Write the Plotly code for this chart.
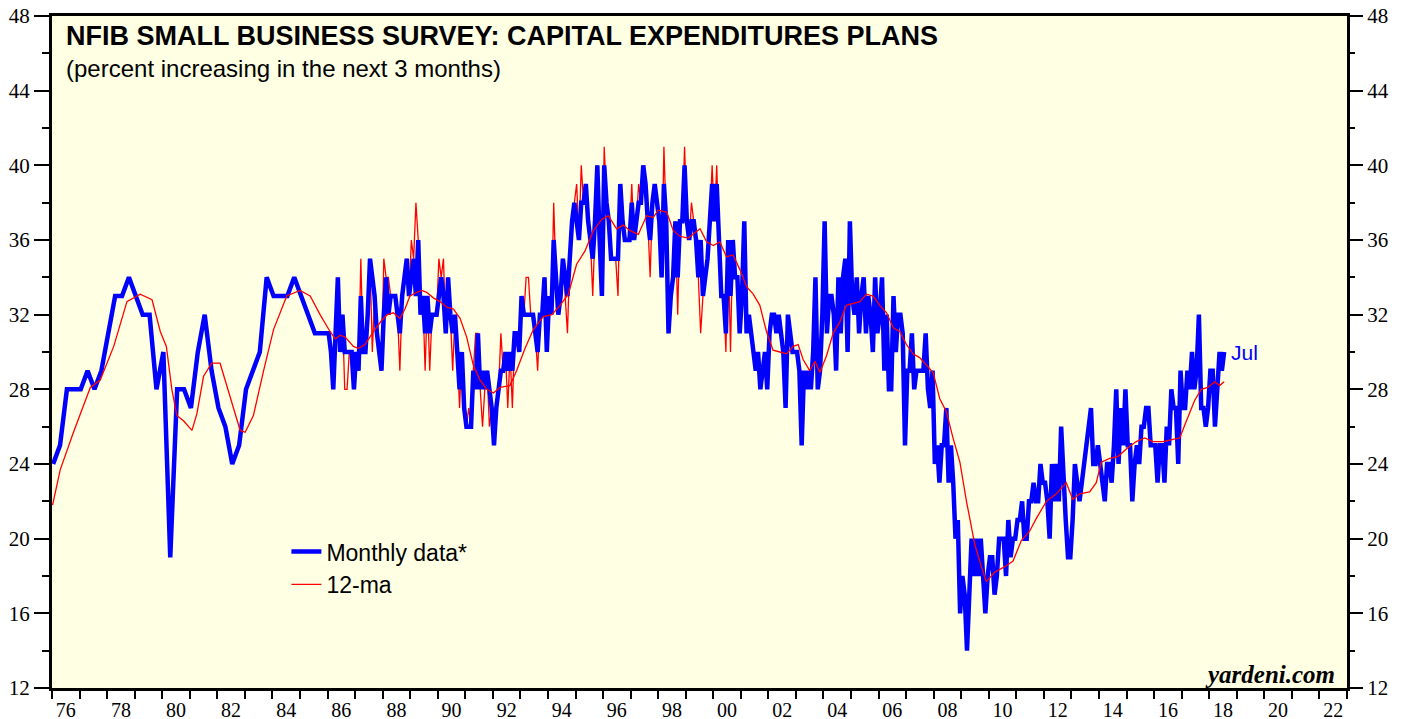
import plotly.graph_objects as go

# ---------------- data ----------------
QUARTERLY_START_YEAR = 1976
MONTHLY_START_YEAR = 1986

# Quarterly readings 1976Q1 - 1985Q4 (percent planning capital outlays)
capex_quarterly = [
    24, 25, 28, 28,
    28, 29, 28, 29,
    31, 33, 33, 34,
    33, 32, 32, 28,
    30, 19, 28, 28,
    27, 30, 32, 29,
    27, 26, 24, 25,
    28, 29, 30, 34,
    33, 33, 33, 34,
    33, 32, 31, 31,
]

# Monthly readings Jan 1986 - Jul 2018
capex_monthly = [
    31, 30, 28, 31, 34, 30, 32, 30, 30, 30, 30, 28,   # 1986
    30, 29, 33, 30, 30, 32, 35, 34, 33, 31, 30, 29,   # 1987
    32, 34, 32, 33, 33, 33, 32, 31, 33, 34, 35, 33,   # 1988
    34, 35, 33, 36, 32, 33, 31, 33, 31, 32, 32, 32,   # 1989
    33, 34, 33, 31, 34, 32, 31, 32, 30, 28, 30, 27,   # 1990
    26, 26, 26, 29, 28, 31, 28, 29, 28, 29, 28, 27,   # 1991
    25, 27, 28, 29, 29, 30, 29, 30, 29, 31, 31, 30,   # 1992
    33, 32, 32, 32, 32, 32, 31, 30, 32, 32, 34, 30,   # 1993
    33, 32, 36, 34, 32, 33, 35, 34, 33, 35, 37, 38,   # 1994
    37, 36, 38, 38, 39, 37, 36, 35, 37, 40, 36, 33,   # 1995
    40, 38, 37, 35, 35, 35, 35, 39, 37, 36, 36, 36,   # 1996
    38, 36, 37, 38, 38, 40, 39, 37, 36, 38, 39, 38,   # 1997
    37, 34, 39, 37, 31, 33, 34, 37, 34, 37, 37, 40,   # 1998
    37, 36, 37, 37, 36, 34, 36, 33, 34, 35, 37, 39,   # 1999
    37, 39, 36, 33, 33, 31, 36, 33, 36, 34, 34, 31,   # 2000
    33, 37, 31, 32, 31, 30, 29, 30, 28, 29, 30, 28,   # 2001
    31, 32, 32, 31, 32, 31, 30, 27, 32, 31, 30, 30,   # 2002
    30, 29, 25, 29, 28, 29, 28, 30, 34, 28, 29, 32,   # 2003
    37, 31, 33, 33, 32, 29, 34, 31, 34, 35, 30, 37,   # 2004
    33, 32, 34, 31, 33, 34, 31, 33, 32, 30, 34, 31,   # 2005
    32, 34, 29, 32, 28, 28, 33, 30, 32, 32, 31, 25,   # 2006
    29, 29, 31, 28, 29, 29, 29, 29, 31, 28, 27, 29,   # 2007
    24, 25, 23, 25, 25, 27, 23, 25, 23, 20, 21, 16,   # 2008
    18, 17, 14, 17, 20, 18, 20, 18, 20, 18, 16, 18,   # 2009
    19, 19, 17, 18, 20, 20, 20, 18, 21, 19, 20, 20,   # 2010
    21, 21, 22, 20, 20, 22, 22, 23, 22, 22, 24, 23,   # 2011
    23, 22, 20, 24, 22, 24, 22, 26, 23, 21, 19, 19,   # 2012
    21, 24, 23, 22, 23, 24, 25, 26, 27, 24, 24, 25,   # 2013
    24, 23, 22, 24, 24, 23, 25, 28, 24, 27, 25, 28,   # 2014
    25, 25, 22, 24, 25, 24, 26, 26, 27, 27, 25, 25,   # 2015
    25, 23, 25, 25, 23, 26, 25, 28, 27, 27, 24, 29,   # 2016
    27, 27, 29, 28, 30, 28, 29, 32, 27, 27, 26, 27,   # 2017
    29, 29, 26, 28, 30, 29, 30,                       # 2018 (Jan-Jul)
]

# Thin red monthly series visible 1986 - Sep 2000
capex_monthly_red = [
    31, 30, 28, 31, 34, 30, 32, 28, 28, 30, 30, 28,   # 1986
    30, 29, 35, 30, 30, 32, 35, 30, 33, 31, 30, 29,   # 1987
    35, 34, 34, 33, 33, 33, 32, 29, 33, 34, 35, 33,   # 1988
    36, 35, 38, 36, 32, 33, 29, 33, 29, 32, 32, 32,   # 1989
    35, 34, 35, 31, 34, 32, 29, 32, 30, 27, 30, 27,   # 1990
    26, 27, 26, 29, 31, 31, 28, 26, 28, 29, 26, 27,   # 1991
    25, 27, 28, 31, 29, 30, 27, 30, 27, 31, 31, 30,   # 1992
    33, 32, 34, 34, 32, 32, 31, 29, 32, 32, 34, 30,   # 1993
    33, 32, 38, 34, 32, 33, 35, 33, 31, 35, 37, 38,   # 1994
    39, 36, 40, 38, 39, 37, 36, 33, 37, 40, 36, 33,   # 1995
    41, 38, 37, 35, 35, 35, 33, 39, 37, 36, 36, 36,   # 1996
    39, 36, 37, 39, 38, 40, 39, 37, 34, 38, 39, 38,   # 1997
    37, 34, 41, 37, 31, 33, 34, 37, 32, 37, 37, 41,   # 1998
    37, 36, 38, 37, 36, 34, 31, 33, 34, 35, 37, 40,   # 1999
    37, 40, 36, 33, 33, 30, 36, 30, 36,               # 2000 (Jan-Sep)
]

# 12-month moving average, read at sample dates (decimal years)
ma_time = [
    1976.02, 1976.30, 1976.78, 1977.39, 1977.75, 1978.24, 1978.72, 1979.20,
    1979.63, 1979.93, 1980.15, 1980.35, 1980.53, 1980.78, 1981.08, 1981.26,
    1981.50, 1981.80, 1982.10, 1982.47, 1982.83, 1983.01, 1983.31, 1983.68,
    1984.04, 1984.52, 1985.00, 1985.37, 1985.73, 1986.09, 1986.28, 1986.46,
    1986.64, 1986.94, 1987.12, 1987.36, 1987.67, 1987.97, 1988.17, 1988.39,
    1988.63, 1988.81, 1988.99, 1989.24, 1989.42, 1989.60, 1989.84, 1990.08,
    1990.33, 1990.57, 1990.81, 1991.05, 1991.29, 1991.53, 1991.78, 1992.02,
    1992.26, 1992.62, 1992.86, 1993.17, 1993.47, 1993.83, 1994.14, 1994.44,
    1994.74, 1995.04, 1995.34, 1995.65, 1995.95, 1996.19, 1996.49, 1996.73,
    1996.98, 1997.28, 1997.58, 1997.82, 1998.00, 1998.31, 1998.55, 1998.79,
    1999.09, 1999.52, 1999.76, 2000.00, 2000.24, 2000.48, 2000.72, 2000.97,
    2001.21, 2001.45, 2001.69, 2001.93, 2002.17, 2002.42, 2002.66, 2002.90,
    2003.08, 2003.26, 2003.50, 2003.69, 2003.87, 2004.11, 2004.35, 2004.59,
    2004.83, 2005.08, 2005.32, 2005.56, 2005.80, 2006.04, 2006.29, 2006.53,
    2006.77, 2007.01, 2007.25, 2007.49, 2007.74, 2007.98, 2008.22, 2008.46,
    2008.70, 2008.95, 2009.19, 2009.49, 2009.73, 2009.91, 2010.21, 2010.58,
    2010.88, 2011.18, 2011.48, 2011.73, 2012.09, 2012.45, 2012.81, 2013.05,
    2013.30, 2013.66, 2013.90, 2014.08, 2014.39, 2014.69, 2014.99, 2015.35,
    2015.66, 2015.96, 2016.32, 2016.68, 2016.93, 2017.17, 2017.47, 2017.71,
    2017.95, 2018.20, 2018.38, 2018.54,
]
ma_value = [
    21.8, 23.7, 25.7, 28.1, 28.5, 30.3, 32.7, 33.1,
    32.8, 31.1, 30.3, 28.0, 26.6, 26.3, 25.8, 26.7,
    28.7, 29.4, 29.4, 27.6, 25.8, 25.7, 26.6, 29.0,
    31.2, 33.0, 33.3, 33.0, 32.0, 31.1, 30.7, 30.9,
    30.8, 30.3, 30.2, 30.4, 31.1, 31.7, 32.0, 32.1,
    31.8, 32.3, 33.0, 33.2, 33.3, 33.2, 32.9, 32.7,
    32.4, 32.3, 31.8, 30.8, 29.3, 28.5, 28.0, 27.8,
    28.1, 28.2, 29.0, 30.2, 31.2, 31.9, 32.0, 32.5,
    33.1, 34.7, 35.4, 36.5, 37.1, 37.3, 36.6, 36.8,
    36.5, 36.3, 37.3, 37.2, 37.6, 37.5, 36.5, 36.2,
    36.1, 36.6, 35.9, 35.7, 35.9, 35.1, 35.2, 34.4,
    33.5, 33.1, 32.5, 31.1, 30.1, 30.0, 29.9, 30.3,
    30.4, 29.6, 29.0, 29.5, 28.9, 29.8, 31.0, 31.6,
    32.5, 32.6, 32.7, 33.1, 33.0, 32.5, 32.1, 31.3,
    31.1, 30.4, 29.9, 29.7, 29.3, 28.9, 27.5, 26.8,
    25.4, 24.1, 22.0, 19.7, 18.5, 17.7, 18.2, 18.5,
    18.8, 19.9, 20.4, 21.1, 22.0, 22.4, 23.0, 22.1,
    22.4, 22.5, 23.0, 24.1, 24.3, 24.4, 24.8, 25.2,
    25.4, 25.2, 25.2, 25.3, 25.4, 26.3, 27.4, 28.0,
    28.1, 28.4, 28.2, 28.4,
]

year_tick_labels = ['76', '78', '80', '82', '84', '86', '88', '90', '92', '94',
                    '96', '98', '00', '02', '04', '06', '08', '10', '12', '14',
                    '16', '18', '20', '22']
AXIS_START, AXIS_END = 1976, 2023
Y_MIN, Y_MAX = 12, 48

# ---------------- positions from dates ----------------
qx = [QUARTERLY_START_YEAR + (3 * i + 0.5) / 12 for i in range(len(capex_quarterly))]
mx = [MONTHLY_START_YEAR + (i + 0.5) / 12 for i in range(len(capex_monthly))]
rx = [MONTHLY_START_YEAR + (i + 0.5) / 12 for i in range(len(capex_monthly_red))]
blue_x = qx + mx
blue_y = capex_quarterly + capex_monthly

BLUE = '#0000FF'
RED = '#FF0000'

fig = go.Figure()
fig.add_trace(go.Scatter(x=rx, y=capex_monthly_red, mode='lines',
                         line=dict(color=RED, width=1.3), showlegend=False,
                         hoverinfo='skip'))
fig.add_trace(go.Scatter(x=blue_x, y=blue_y, mode='lines', name='Monthly data*',
                         line=dict(color=BLUE, width=4.5)))
fig.add_trace(go.Scatter(x=ma_time, y=ma_value, mode='lines', name='12-ma',
                         line=dict(color=RED, width=1.3), yaxis='y2'))

ytickvals = list(range(Y_MIN, Y_MAX + 1, 4))
yaxis_common = dict(
    range=[Y_MIN, Y_MAX], tickmode='array', tickvals=ytickvals,
    ticks='outside', ticklen=15, tickwidth=1.5, tickcolor='black',
    tickfont=dict(family='Liberation Serif', size=21, color='black'),
    showgrid=False, zeroline=False, automargin=False, ticklabeloverflow='allow',
    minor=dict(tickmode='linear', tick0=Y_MIN, dtick=2, ticks='outside',
               ticklen=7, tickwidth=1.5, tickcolor='black', showgrid=False),
)

fig.update_layout(
    width=1408, height=719,
    margin=dict(l=52, r=61, t=16, b=31, autoexpand=False),
    paper_bgcolor='white',
    plot_bgcolor='#FFFFE3',
    font=dict(family='Liberation Sans', color='black'),
    xaxis=dict(
        range=[AXIS_START, AXIS_END], tickmode='array',
        tickvals=[AXIS_START + 0.5 + 2 * i for i in range(len(year_tick_labels))],
        ticktext=year_tick_labels,
        ticks='outside', ticklen=2, tickcolor='rgba(0,0,0,0)',
        tickfont=dict(family='Liberation Serif', size=20, color='black'),
        showline=True, linewidth=3, linecolor='black', mirror=True,
        showgrid=False, zeroline=False, automargin=False, ticklabeloverflow='allow',
        minor=dict(tickmode='linear', tick0=AXIS_START, dtick=1, ticks='outside',
                   ticklen=8, tickwidth=2, tickcolor='black', showgrid=False),
    ),
    yaxis=dict(showline=True, linewidth=3, linecolor='black', mirror=True,
               side='left', **yaxis_common),
    yaxis2=dict(overlaying='y', side='right', showline=False, **yaxis_common),
    legend=dict(x=0.181, y=0.235, xanchor='left', yanchor='top',
                bgcolor='rgba(0,0,0,0)', borderwidth=0,
                font=dict(family='Liberation Sans', size=23, color='black'),
                tracegroupgap=0),
    annotations=[
        dict(text='<b>NFIB SMALL BUSINESS SURVEY: CAPITAL EXPENDITURES PLANS</b>',
             xref='paper', yref='paper', x=0.0093, y=0.9698,
             xanchor='left', yanchor='middle', showarrow=False,
             font=dict(family='Liberation Sans', size=27, color='black')),
        dict(text='(percent increasing in the next 3 months)',
             xref='paper', yref='paper', x=0.0093, y=0.9226,
             xanchor='left', yanchor='middle', showarrow=False,
             font=dict(family='Liberation Sans', size=24, color='black')),
        dict(text='<b><i>yardeni.com</i></b>',
             xref='paper', yref='paper', x=0.9923, y=0.0208,
             xanchor='right', yanchor='middle', showarrow=False,
             font=dict(family='Liberation Serif', size=25, color='black')),
        dict(text='Jul', xref='x', yref='y', x=mx[-1], y=capex_monthly[-1],
             xanchor='left', yanchor='middle', xshift=5, showarrow=False,
             font=dict(family='Liberation Sans', size=21, color=BLUE)),
    ],
)

# Remove the default page margin so the figure sits at the window's top-left.
page_js = ("document.body.style.margin='0px';"
           "document.body.style.padding='0px';"
           "document.body.style.overflow='hidden';")
fig.write_html('out.html', post_script=page_js,
               config={'displayModeBar': False, 'displaylogo': False})
